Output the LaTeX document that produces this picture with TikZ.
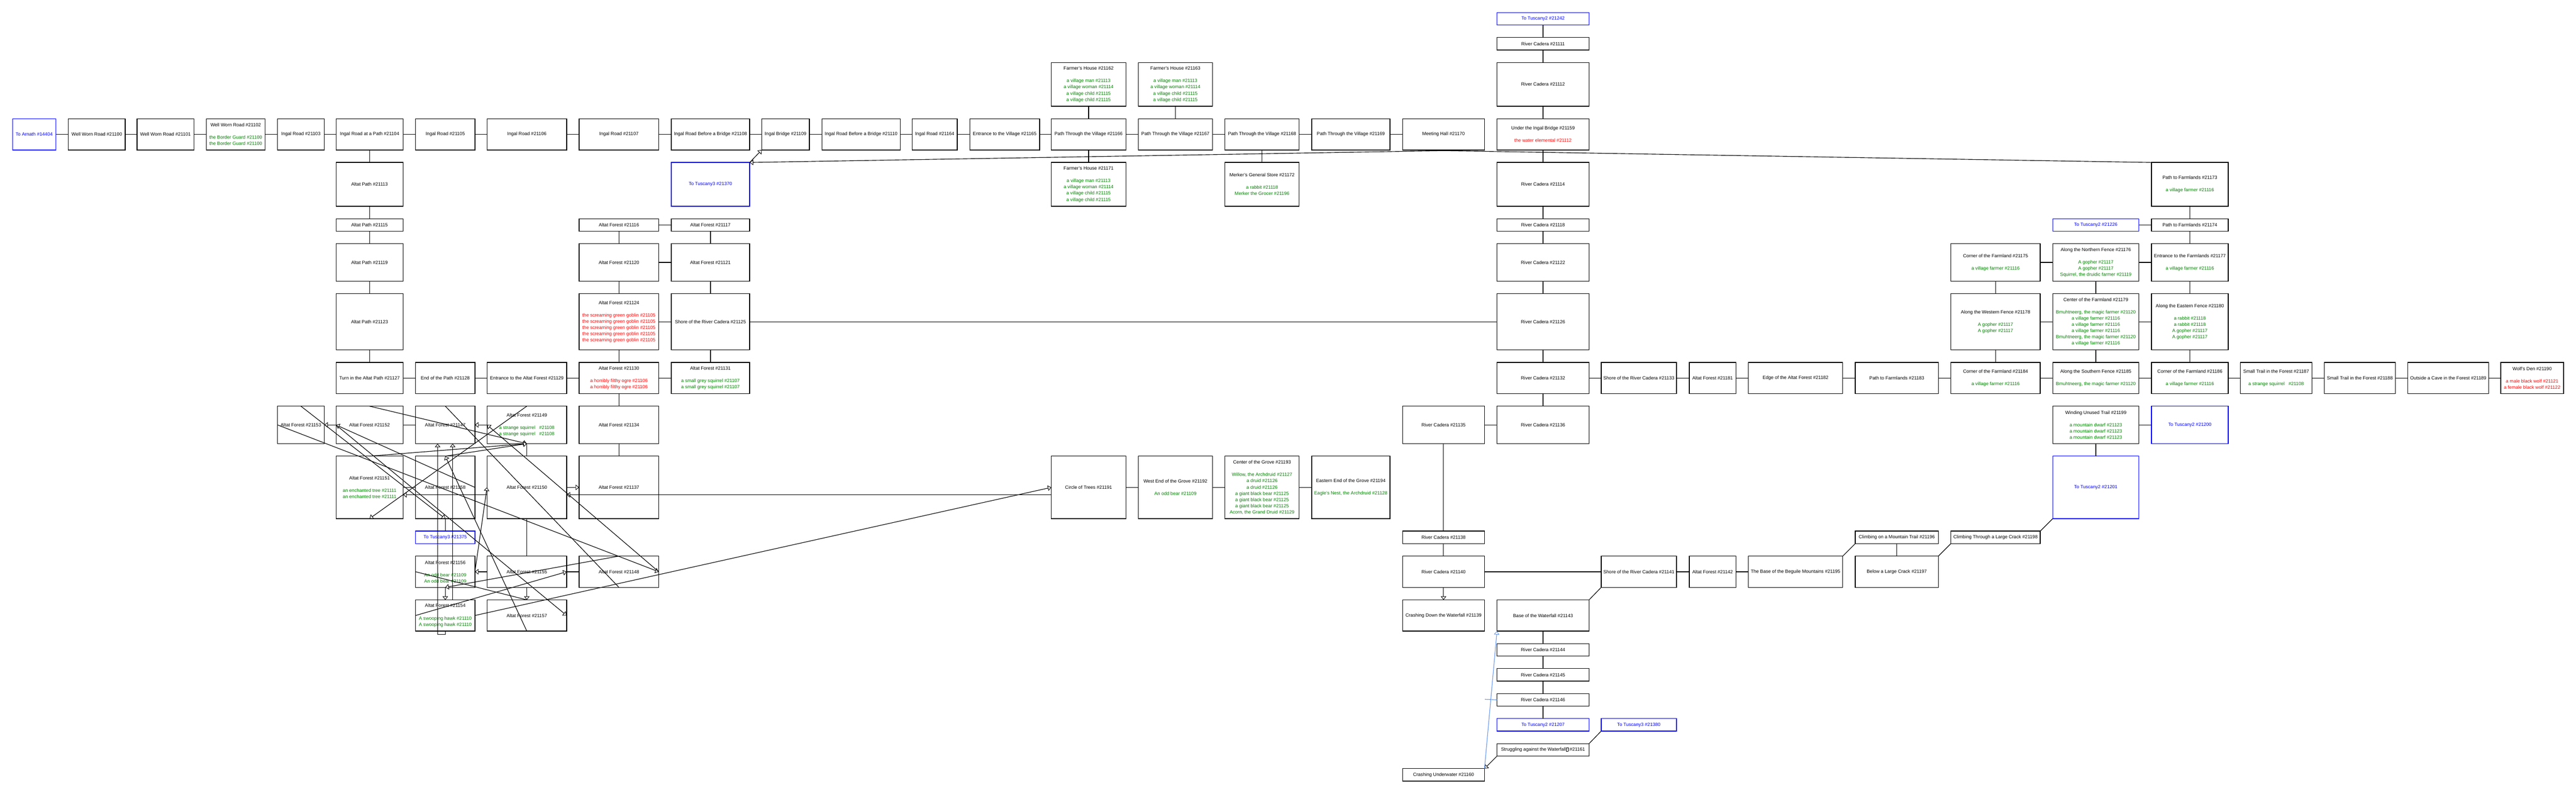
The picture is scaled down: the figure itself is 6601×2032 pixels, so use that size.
\documentclass[tikz,border=0pt]{standalone}
\usepackage{fontspec}
\setmainfont{Liberation Sans}
\usetikzlibrary{arrows.meta}
\definecolor{mobgreen}{RGB}{0,128,0}
\definecolor{mobred}{RGB}{255,0,0}
\definecolor{exitblue}{RGB}{0,0,255}
\definecolor{linkblue}{RGB}{100,149,237}
\newcommand\grn[1]{\textcolor{mobgreen}{#1}}
\newcommand\rdm[1]{\textcolor{mobred}{#1}}
\newcommand\tofu{{\setlength\fboxsep{0pt}\setlength\fboxrule{0.7pt}\fbox{\rule{0pt}{8pt}\hspace{5pt}}}}
\newcommand\defcol[3]{\expandafter\def\csname cL#1\endcsname{#2}\expandafter\def\csname cR#1\endcsname{#3}}
\newcommand\defrow[3]{\expandafter\def\csname rT#1\endcsname{#2}\expandafter\def\csname rB#1\endcsname{#3}}
\defcol{0}{32}{143}\defcol{1}{175}{321}\defcol{2}{351}{497}\defcol{3}{529}{679}
\defcol{4}{711}{831}\defcol{5}{861}{1033}\defcol{6}{1065}{1217}\defcol{7}{1248}{1452}
\defcol{8}{1484}{1688}\defcol{9}{1720}{1921}\defcol{10}{1952}{2074}\defcol{11}{2106}{2307}
\defcol{12}{2337}{2453}\defcol{13}{2485}{2664}\defcol{14}{2694}{2885}\defcol{15}{2917}{3107}
\defcol{16}{3139}{3329}\defcol{17}{3361}{3562}\defcol{18}{3594}{3804}\defcol{19}{3836}{4072}
\defcol{20}{4103}{4296}\defcol{21}{4329}{4448}\defcol{22}{4480}{4722}\defcol{23}{4754}{4967}
\defcol{24}{4999}{5228}\defcol{25}{5260}{5481}\defcol{26}{5513}{5710}\defcol{27}{5741}{5924}
\defcol{28}{5956}{6138}\defcol{29}{6170}{6377}\defcol{30}{6408}{6569}
\defrow{0}{32}{64}\defrow{1}{96}{128}\defrow{2}{160}{272}\defrow{3}{304}{384}
\defrow{4}{416}{528}\defrow{5}{560}{592}\defrow{6}{624}{720}\defrow{7}{752}{896}
\defrow{8}{928}{1008}\defrow{9}{1040}{1136}\defrow{10}{1168}{1328}\defrow{11}{1360}{1392}
\defrow{12}{1424}{1504}\defrow{13}{1536}{1616}\defrow{14}{1648}{1680}\defrow{15}{1712}{1744}
\defrow{16}{1776}{1808}\defrow{17}{1840}{1872}\defrow{18}{1904}{1936}\defrow{19}{1968}{2000}
\newcommand\room[5][]{%
  \edef\rmXa{\csname cL#3\endcsname}\edef\rmXb{\csname cR#3\endcsname}%
  \edef\rmYa{\csname rT#4\endcsname}\edef\rmYb{\csname rB#4\endcsname}%
  \node[roombox,#1,minimum width={(\rmXb-\rmXa)*1pt},minimum height={(\rmYb-\rmYa)*1pt}]
    (#2) at ({(\rmXa+\rmXb)/2},{(\rmYa+\rmYb)/2}) {#5};}
\tikzset{
  roombox/.style={draw=black,line width=1.8pt,inner sep=0pt,outer sep=0pt,align=center,
    font=\fontsize{12}{16}\selectfont},
  exitbox/.style={draw=exitblue,text=exitblue},
  link/.style={line width=1.5pt,draw=black},
  oneway/.style={link,-{Triangle[length=9pt,width=14pt,fill=white,line width=1.2pt]}},
  bluelink/.style={line width=1.5pt,draw=linkblue,-{Triangle[length=9pt,width=14pt,fill=white,line width=1.2pt]}},
}
\begin{document}
\begin{tikzpicture}[x=1pt,y=-1pt]
\useasboundingbox (0,0) rectangle (6601,2032);
% ---------- row 0-2
\room[exitbox]{t21242}{19}{0}{To Tuscany2 \#21242}
\room{n21111}{19}{1}{River Cadera \#21111}
\room{fh62}{14}{2}{Farmer's House \#21162\\[16pt]\grn{a village man \#21113}\\\grn{a village woman \#21114}\\\grn{a village child \#21115}\\\grn{a village child \#21115}}
\room{fh63}{15}{2}{Farmer's House \#21163\\[16pt]\grn{a village man \#21113}\\\grn{a village woman \#21114}\\\grn{a village child \#21115}\\\grn{a village child \#21115}}
\room{n21112}{19}{2}{River Cadera \#21112}
% ---------- row 3
\room[exitbox]{arnath}{0}{3}{To Arnath \#14404}
\room{n21100}{1}{3}{Well Worn Road \#21100}
\room{n21101}{2}{3}{Well Worn Road \#21101}
\room{n21102}{3}{3}{Well Worn Road \#21102\\[16pt]\grn{the Border Guard \#21100}\\\grn{the Border Guard \#21100}}
\room{n21103}{4}{3}{Ingal Road \#21103}
\room{n21104}{5}{3}{Ingal Road at a Path \#21104}
\room{n21105}{6}{3}{Ingal Road \#21105}
\room{n21106}{7}{3}{Ingal Road \#21106}
\room{n21107}{8}{3}{Ingal Road \#21107}
\room{n21108}{9}{3}{Ingal Road Before a Bridge \#21108}
\room{n21109}{10}{3}{Ingal Bridge \#21109}
\room{n21110}{11}{3}{Ingal Road Before a Bridge \#21110}
\room{n21164}{12}{3}{Ingal Road \#21164}
\room{n21165}{13}{3}{Entrance to the Village \#21165}
\room{n21166}{14}{3}{Path Through the Village \#21166}
\room{n21167}{15}{3}{Path Through the Village \#21167}
\room{n21168}{16}{3}{Path Through the Village \#21168}
\room{n21169}{17}{3}{Path Through the Village \#21169}
\room{hall}{18}{3}{Meeting Hall \#21170}
\room{n21159}{19}{3}{Under the Ingal Bridge \#21159\\[16pt]\rdm{the water elemental \#21112}}
% ---------- row 4
\room{n21113}{5}{4}{Altat Path \#21113}
\room[exitbox]{t21370}{9}{4}{To Tuscany3 \#21370}
\room{fh71}{14}{4}{Farmer's House \#21171\\[16pt]\grn{a village man \#21113}\\\grn{a village woman \#21114}\\\grn{a village child \#21115}\\\grn{a village child \#21115}}
\room{merker}{16}{4}{Merker's General Store \#21172\\[16pt]\grn{a rabbit \#21118}\\\grn{Merker the Grocer \#21196}}
\room{n21114}{19}{4}{River Cadera \#21114}
\room{n21173}{26}{4}{Path to Farmlands \#21173\\[16pt]\grn{a village farmer \#21116}}
% ---------- row 5
\room{n21115}{5}{5}{Altat Path \#21115}
\room{n21116}{8}{5}{Altat Forest \#21116}
\room{n21117}{9}{5}{Altat Forest \#21117}
\room{n21118}{19}{5}{River Cadera \#21118}
\room[exitbox]{t21226}{25}{5}{To Tuscany2 \#21226}
\room{n21174}{26}{5}{Path to Farmlands \#21174}
% ---------- row 6
\room{n21119}{5}{6}{Altat Path \#21119}
\room{n21120}{8}{6}{Altat Forest \#21120}
\room{n21121}{9}{6}{Altat Forest \#21121}
\room{n21122}{19}{6}{River Cadera \#21122}
\room{n21175}{24}{6}{Corner of the Farmland \#21175\\[16pt]\grn{a village farmer \#21116}}
\room{n21176}{25}{6}{Along the Northern Fence \#21176\\[16pt]\grn{A gopher \#21117}\\\grn{A gopher \#21117}\\\grn{Squirrel, the druidic farmer \#21119}}
\room{n21177}{26}{6}{Entrance to the Farmlands \#21177\\[16pt]\grn{a village farmer \#21116}}
% ---------- row 7
\room{n21123}{5}{7}{Altat Path \#21123}
\room{n21124}{8}{7}{Altat Forest \#21124\\[16pt]\rdm{the screaming green goblin \#21105}\\\rdm{the screaming green goblin \#21105}\\\rdm{the screaming green goblin \#21105}\\\rdm{the screaming green goblin \#21105}\\\rdm{the screaming green goblin \#21105}}
\room{n21125}{9}{7}{Shore of the River Cadera \#21125}
\room{n21126}{19}{7}{River Cadera \#21126}
\room{n21178}{24}{7}{Along the Western Fence \#21178\\[16pt]\grn{A gopher \#21117}\\\grn{A gopher \#21117}}
\room{n21179}{25}{7}{Center of the Farmland \#21179\\[16pt]\grn{Bmuhtneerg, the magic farmer \#21120}\\\grn{a village farmer \#21116}\\\grn{a village farmer \#21116}\\\grn{a village farmer \#21116}\\\grn{Bmuhtneerg, the magic farmer \#21120}\\\grn{a village farmer \#21116}}
\room{n21180}{26}{7}{Along the Eastern Fence \#21180\\[16pt]\grn{a rabbit \#21118}\\\grn{a rabbit \#21118}\\\grn{A gopher \#21117}\\\grn{A gopher \#21117}}
% ---------- row 8
\room{n21127}{5}{8}{Turn in the Altat Path \#21127}
\room{n21128}{6}{8}{End of the Path \#21128}
\room{n21129}{7}{8}{Entrance to the Altat Forest \#21129}
\room{n21130}{8}{8}{Altat Forest \#21130\\[16pt]\rdm{a horribly filthy ogre \#21106}\\\rdm{a horribly filthy ogre \#21106}}
\room{n21131}{9}{8}{Altat Forest \#21131\\[16pt]\grn{a small grey squirrel \#21107}\\\grn{a small grey squirrel \#21107}}
\room{n21132}{19}{8}{River Cadera \#21132}
\room{n21133}{20}{8}{Shore of the River Cadera \#21133}
\room{n21181}{21}{8}{Altat Forest \#21181}
\room{n21182}{22}{8}{Edge of the Altat Forest \#21182}
\room{n21183}{23}{8}{Path to Farmlands \#21183}
\room{n21184}{24}{8}{Corner of the Farmland \#21184\\[16pt]\grn{a village farmer \#21116}}
\room{n21185}{25}{8}{Along the Southern Fence \#21185\\[16pt]\grn{Bmuhtneerg, the magic farmer \#21120}}
\room{n21186}{26}{8}{Corner of the Farmland \#21186\\[16pt]\grn{a village farmer \#21116}}
\room{n21187}{27}{8}{Small Trail in the Forest \#21187\\[16pt]\grn{a strange squirrel\ \ \ \#21108}}
\room{n21188}{28}{8}{Small Trail in the Forest \#21188}
\room{n21189}{29}{8}{Outside a Cave in the Forest \#21189}
\room{n21190}{30}{8}{Wolf's Den \#21190\\[16pt]\rdm{a male black wolf \#21121}\\\rdm{a female black wolf \#21122}}
% ---------- row 9
\room{n21153}{4}{9}{Altat Forest \#21153}
\room{n21152}{5}{9}{Altat Forest \#21152}
\room{n21147}{6}{9}{Altat Forest \#21147}
\room{n21149}{7}{9}{Altat Forest \#21149\\[16pt]\grn{a strange squirrel\ \ \ \#21108}\\\grn{a strange squirrel\ \ \ \#21108}}
\room{n21134}{8}{9}{Altat Forest \#21134}
\room{n21135}{18}{9}{River Cadera \#21135}
\room{n21136}{19}{9}{River Cadera \#21136}
\room{n21199}{25}{9}{Winding Unused Trail \#21199\\[16pt]\grn{a mountain dwarf \#21123}\\\grn{a mountain dwarf \#21123}\\\grn{a mountain dwarf \#21123}}
\room[exitbox]{t21200}{26}{9}{To Tuscany2 \#21200}
% ---------- row 10
\room{n21151}{5}{10}{Altat Forest \#21151\\[16pt]\grn{an enchanted tree \#21111}\\\grn{an enchanted tree \#21111}}
\room{n21158}{6}{10}{Altat Forest \#21158}
\room{n21150}{7}{10}{Altat Forest \#21150}
\room{n21137}{8}{10}{Altat Forest \#21137}
\room{circle}{14}{10}{Circle of Trees \#21191}
\room{n21192}{15}{10}{West End of the Grove \#21192\\[16pt]\grn{An odd bear \#21109}}
\room{n21193}{16}{10}{Center of the Grove \#21193\\[16pt]\grn{Willow, the Archdruid \#21127}\\\grn{a druid \#21126}\\\grn{a druid \#21126}\\\grn{a giant black bear \#21125}\\\grn{a giant black bear \#21125}\\\grn{a giant black bear \#21125}\\\grn{Acorn, the Grand Druid \#21129}}
\room{n21194}{17}{10}{Eastern End of the Grove \#21194\\[16pt]\grn{Eagle's Nest, the Archdruid \#21128}}
\room[exitbox]{t21201}{25}{10}{To Tuscany2 \#21201}
% ---------- row 11
\room[exitbox]{t21375}{6}{11}{To Tuscany3 \#21375}
\room{n21138}{18}{11}{River Cadera \#21138}
\room{n21196}{23}{11}{Climbing on a Mountain Trail \#21196}
\room{n21198}{24}{11}{Climbing Through a Large Crack \#21198}
% ---------- row 12
\room{n21156}{6}{12}{Altat Forest \#21156\\[16pt]\grn{An odd bear \#21109}\\\grn{An odd bear \#21109}}
\room{n21155}{7}{12}{Altat Forest \#21155}
\room{n21148}{8}{12}{Altat Forest \#21148}
\room{n21140}{18}{12}{River Cadera \#21140}
\room{n21141}{20}{12}{Shore of the River Cadera \#21141}
\room{n21142}{21}{12}{Altat Forest \#21142}
\room{n21195}{22}{12}{The Base of the Beguile Mountains \#21195}
\room{n21197}{23}{12}{Below a Large Crack \#21197}
% ---------- row 13
\room{n21154}{6}{13}{Altat Forest \#21154\\[16pt]\grn{A swooping hawk \#21110}\\\grn{A swooping hawk \#21110}}
\room{n21157}{7}{13}{Altat Forest \#21157}
\room{n21139}{18}{13}{Crashing Down the Waterfall \#21139}
\room{n21143}{19}{13}{Base of the Waterfall \#21143}
% ---------- rows 14-19
\room{n21144}{19}{14}{River Cadera \#21144}
\room{n21145}{19}{15}{River Cadera \#21145}
\room{n21146}{19}{16}{River Cadera \#21146}
\room[exitbox]{t21207}{19}{17}{To Tuscany2 \#21207}
\room[exitbox]{t21380}{20}{17}{To Tuscany3 \#21380}
\room{n21161}{19}{18}{Struggling against the Waterfall\tofu{} \#21161}
\room{n21160}{18}{19}{Crashing Underwater \#21160}
\coordinate (bluetick) at (3805,1790.5);
% ---------- two-way links
\foreach \a/\b in {arnath/n21100,n21100/n21101,n21101/n21102,n21102/n21103,n21103/n21104,
  n21104/n21105,n21105/n21106,n21106/n21107,n21107/n21108,n21108/n21109,n21109/n21110,
  n21110/n21164,n21164/n21165,n21165/n21166,n21166/n21167,n21167/n21168,n21168/n21169,
  n21169/hall,fh62/n21166,fh63/n21167,n21166/fh71,n21168/merker,
  n21104/n21113,n21113/n21115,n21115/n21119,n21119/n21123,n21123/n21127,
  n21127/n21128,n21128/n21129,n21129/n21130,n21130/n21131,
  n21116/n21117,n21116/n21120,n21117/n21121,n21120/n21121,n21120/n21124,n21121/n21125,
  n21124/n21125,n21124/n21130,n21125/n21131,n21125/n21126,
  t21242/n21111,n21111/n21112,n21112/n21159,n21159/n21114,n21114/n21118,n21118/n21122,
  n21122/n21126,n21126/n21132,n21132/n21136,n21132/n21133,n21133/n21181,n21181/n21182,
  n21182/n21183,n21183/n21184,n21135/n21136,n21135/n21138,n21138/n21140,
  n21140/n21141,n21141/n21142,n21142/n21195,n21196/n21197,
  n21143/n21144,n21144/n21145,n21145/n21146,n21146/t21207,t21201/n21199,n21199/t21200,
  n21173/n21174,t21226/n21174,n21174/n21177,n21175/n21176,n21176/n21177,n21175/n21178,
  n21176/n21179,n21177/n21180,n21178/n21179,n21179/n21180,n21178/n21184,n21179/n21185,
  n21180/n21186,n21184/n21185,n21185/n21186,n21186/n21187,n21187/n21188,n21188/n21189,
  n21189/n21190,circle/n21192,n21192/n21193,n21193/n21194,
  n21130/n21134,n21134/n21137,n21152/n21147,n21149/n21150,n21150/n21155,n21151/n21158,
  n21158/t21375,n21155/n21148}
  {\draw[link] (\a) -- (\b);}
% ---------- corner links
\draw[link] (n21141.south west) -- (n21143.north east);
\draw[link] (n21195.north east) -- (n21196.south west);
\draw[link] (n21197.north east) -- (n21198.south west);
\draw[link] (n21198.north east) -- (t21201.south west);
\draw[link] (n21161.north east) -- (t21380.south west);
\draw[oneway] (n21161.south west) -- (n21160.north east);
\draw[bluelink] (n21160.north east) -- (n21143.south west);
\draw[line width=1.5pt,draw=linkblue] (bluetick) -- (n21146.west);
\draw[oneway] (n21140) -- (n21139);
% ---------- long links at the top
\draw[oneway] (t21370.north east) -- (n21109.south west);
\draw[oneway] (hall.south east) -- (t21370.north east);
\draw[link] (hall.south west) -- (n21173.north west);
% ---------- the forest tangle
\draw[oneway] (n21152) -- (n21153);
\draw[oneway] (n21149) -- (n21147);
\draw[oneway] (n21150) -- (n21137);
\draw[oneway] (n21155) -- (n21156);
\draw[oneway] (n21156) -- (n21154);
\draw[oneway] (n21155) -- (n21157);
\draw[oneway] ([yshift=-19pt]n21150.west) -- ([yshift=-19pt]n21151.east);
\draw[oneway] ([yshift=-19pt]circle.west) -- ([yshift=-19pt]n21150.east);
\draw[oneway] (n21154.south) -- ++(0,8) -| ([xshift=-19.6pt]n21147.south);
\draw[oneway] ([xshift=19pt]n21154.north) -- ([xshift=19pt]n21147.south);
\draw[oneway] (n21153.north) -- (n21158.south);
\draw[oneway] (n21152.north) -- (n21149.south);
\draw[oneway] (n21151.north) -- (n21149.south);
\draw[oneway] (n21158.north) -- (n21149.south);
\draw[oneway] (n21157.south) -- (n21158.north);
\draw[link] (n21147.north) -- (n21148.south);
\draw[oneway] (n21149.north) -- (n21151.south);
\draw[oneway] (n21158.east) -- (n21152.west);
\draw[oneway] (n21152.west) -- (n21157.east);
\draw[oneway] (n21153.west) -- (n21148.east);
\draw[oneway] (n21148.east) -- (n21149.west);
\draw[oneway] (n21156.east) -- (n21150.west);
\draw[oneway] (n21154.west) -- (n21155.east);
\draw[oneway] (n21148.north) -- (n21156.south);
\draw[link] (n21156.west) -- (n21157.north);
\draw[oneway] (n21154.east) -- (circle.west);
\end{tikzpicture}
\end{document}
